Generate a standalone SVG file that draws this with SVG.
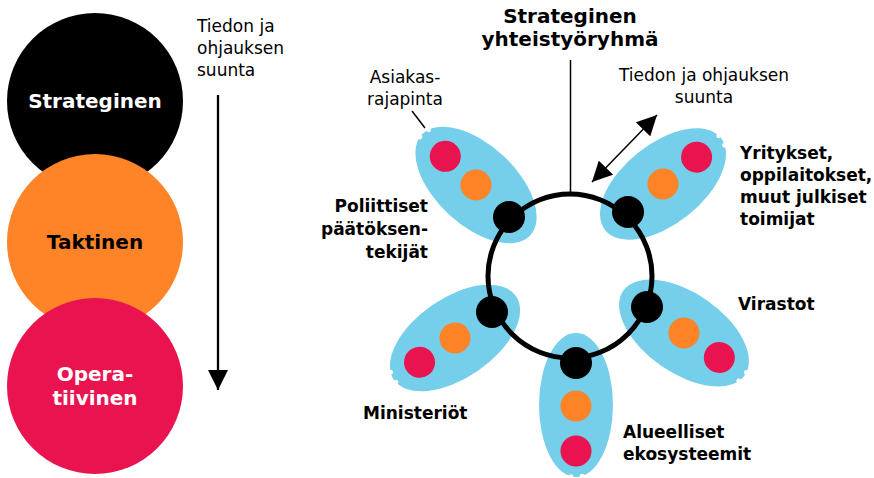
<svg xmlns="http://www.w3.org/2000/svg" width="874" height="478" viewBox="0 0 874 478">
<style>
.big{font-family:"DejaVu Sans","Liberation Sans",sans-serif;font-weight:bold;font-size:20px}
.lbl{font-family:"DejaVu Sans","Liberation Sans",sans-serif;font-weight:bold;font-size:17px;fill:#000}
.reg{font-family:"DejaVu Sans","Liberation Sans",sans-serif;font-size:17px;fill:#000}
.pod{fill:#75CEEA}
.notch{fill:#fff}
.red{fill:#E9134F}
.org{fill:#FF8327}
.hub{fill:#000}
.ln{stroke:#000;fill:none}
</style>
<defs>
<marker id="ah" markerUnits="userSpaceOnUse" markerWidth="20" markerHeight="20" viewBox="0 0 18 18" refX="18" refY="9" orient="auto-start-reverse">
<path d="M0,0 L18,9 L0,18 z" fill="#000"/>
</marker>
<g id="podshape">
<ellipse cx="0" cy="0" rx="74" ry="40" class="pod"/>
<circle cx="73.6" cy="-3" r="2.3" class="notch"/>
<circle cx="72.2" cy="8" r="2.3" class="notch"/>
</g>
</defs>

<!-- Left levels -->
<g id="level-strateginen">
<circle cx="95" cy="101" r="88" fill="#000"/>
<text x="95" y="108" class="big" fill="#fff" text-anchor="middle">Strateginen</text>
</g>
<g id="level-taktinen">
<circle cx="95" cy="242" r="88" class="org"/>
<text x="95" y="249" class="big" fill="#000" text-anchor="middle">Taktinen</text>
</g>
<g id="level-operatiivinen">
<circle cx="95" cy="386" r="88" class="red"/>
<text x="95" y="381" class="big" fill="#fff" text-anchor="middle">Opera-</text>
<text x="95" y="405" class="big" fill="#fff" text-anchor="middle">tiivinen</text>
</g>
<g id="label-left-direction">
<text x="197" y="32" class="reg">Tiedon ja</text>
<text x="197" y="54" class="reg">ohjauksen</text>
<text x="197" y="76" class="reg">suunta</text>
</g>

<!-- Pods -->
<g id="pod-poliittiset">
<g transform="translate(476,185) rotate(223)">
<use href="#podshape"/>
<circle cx="42" cy="0" r="15.5" class="red"/>
<circle cx="0" cy="0" r="15.5" class="org"/>
</g>
<text x="428" y="212" class="lbl" text-anchor="end">Poliittiset</text>
<text x="428" y="235" class="lbl" text-anchor="end">päätöksen-</text>
<text x="428" y="258" class="lbl" text-anchor="end">tekijät</text>
</g>
<g id="pod-yritykset">
<g transform="translate(663,184) rotate(-38.6)">
<use href="#podshape"/>
<circle cx="43" cy="0" r="15.5" class="red"/>
<circle cx="0" cy="0" r="15.5" class="org"/>
</g>
<text x="740" y="159" class="lbl">Yritykset,</text>
<text x="740" y="181" class="lbl">oppilaitokset,</text>
<text x="740" y="203" class="lbl">muut julkiset</text>
<text x="740" y="225" class="lbl">toimijat</text>
</g>
<g id="pod-ministeriot">
<g transform="translate(455,338) rotate(145.6)">
<use href="#podshape"/>
<circle cx="43" cy="0" r="15.5" class="red"/>
<circle cx="0" cy="0" r="15.5" class="org"/>
</g>
<text x="363" y="419" class="lbl">Ministeriöt</text>
</g>
<g id="pod-virastot">
<g transform="translate(684,333) rotate(34.8)">
<use href="#podshape"/>
<circle cx="43" cy="0" r="15.5" class="red"/>
<circle cx="0" cy="0" r="15.5" class="org"/>
</g>
<text x="738" y="310" class="lbl">Virastot</text>
</g>
<g id="pod-alueelliset">
<g transform="translate(576,405) rotate(90)">
<ellipse cx="0" cy="0" rx="72" ry="37" class="pod"/>
<circle cx="71" cy="-6" r="2.3" class="notch"/>
<circle cx="71.5" cy="5" r="2.3" class="notch"/>
<circle cx="46" cy="0" r="15.5" class="red"/>
<circle cx="1" cy="0" r="15.5" class="org"/>
</g>
<text x="623" y="438" class="lbl">Alueelliset</text>
<text x="623" y="460" class="lbl">ekosysteemit</text>
</g>

<!-- Connectors -->
<g id="connectors">
<circle cx="570" cy="276" r="82" class="ln" stroke-width="5"/>
<line x1="570.5" y1="60" x2="570.5" y2="194" class="ln" stroke-width="1.5"/>
<line x1="218" y1="95" x2="218" y2="390" class="ln" stroke-width="2.3" marker-end="url(#ah)"/>
<line x1="592" y1="182" x2="657" y2="115" class="ln" stroke-width="1.5" marker-start="url(#ah)" marker-end="url(#ah)"/>
<line x1="412" y1="111" x2="425" y2="128" class="ln" stroke-width="1.5"/>
</g>

<!-- Hub nodes -->
<g id="hub-nodes">
<circle cx="509" cy="217" r="16" class="hub"/>
<circle cx="628" cy="212" r="16" class="hub"/>
<circle cx="492" cy="312" r="16" class="hub"/>
<circle cx="576" cy="363" r="16" class="hub"/>
<circle cx="647" cy="307" r="16" class="hub"/>
</g>

<g id="title">
<text x="570" y="23" class="big" text-anchor="middle">Strateginen</text>
<text x="570" y="46" class="big" text-anchor="middle">yhteistyöryhmä</text>
</g>
<g id="label-right-direction">
<text x="704" y="81" class="reg" text-anchor="middle">Tiedon ja ohjauksen</text>
<text x="704" y="103" class="reg" text-anchor="middle">suunta</text>
</g>
<g id="label-asiakas">
<text x="405" y="83" class="reg" text-anchor="middle">Asiakas-</text>
<text x="405" y="105" class="reg" text-anchor="middle">rajapinta</text>
</g>
</svg>
